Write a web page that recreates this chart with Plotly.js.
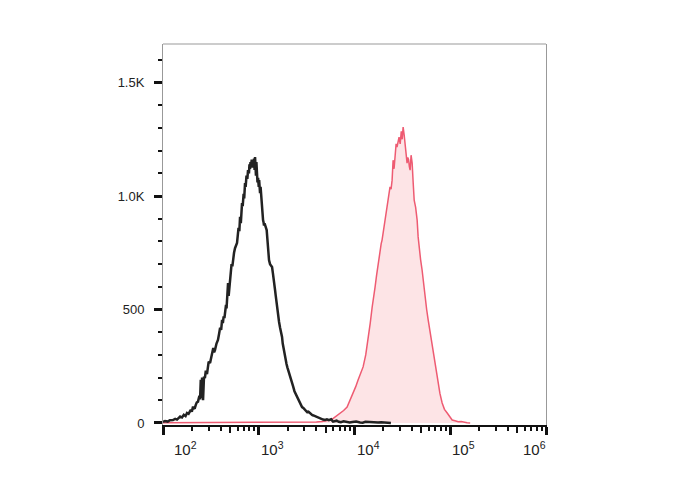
<!DOCTYPE html>
<html>
<head>
<meta charset="utf-8">
<script src="https://cdn.plot.ly/plotly-3.0.1.min.js"></script>
<style>html,body{margin:0;padding:0;background:#fff;}#chart{width:688px;height:490px;}</style>
</head>
<body>
<div id="chart"></div>
<script>
// Control (unstained) histogram: intensity vs count
const controlX = [100,105,112,118,127,134,140,151,158,165,172,178,185,190,195,200,206,210,215,220,225,232,240,244,248,252,256,262,268,274,280,288,294,300,310,316,322,335,342,349,362,375,385,395,405,414,422,430,438,445,455,461,467,472,478,485,493,501,510,520,530,539,552,565,580,593,605,615,627,638,650,660,669,680,695,705,719,730,745,760,773,790,800,811,820,830,845,851,862,872,883,893,905,915,925,935,945,955,970,984,1000,1010,1022,1032,1045,1060,1072,1083,1095,1109,1122,1135,1150,1164,1190,1210,1230,1251,1280,1312,1345,1377,1405,1430,1455,1480,1505,1530,1560,1591,1630,1670,1710,1751,1780,1810,1850,1883,1915,1950,1990,2025,2070,2120,2170,2229,2290,2360,2430,2512,2580,2650,2740,2833,2920,3000,3100,3196,3300,3400,3500,3604,3720,3850,4000,4165,4320,4500,4700,4931,5150,5400,5700,5975,6200,6500,6850,7200,7700,8370,8900,9500,10400,11430,12200,13000,14500,16400,17600,19000,20500,21900,24000,26000,1000000];
const controlY = [5,8,6,12,13,18,15,28,24,36,30,44,40,52,58,50,72,64,66,80,90,94,120,104,190,110,200,100,204,198,230,215,240,270,264,285,300,330,312,321,350,366,392,420,410,454,440,470,462,484,520,505,556,610,617,560,600,644,670,700,690,732,750,770,785,793,830,860,845,909,880,940,969,955,1010,990,1057,1040,1090,1075,1114,1100,1140,1120,1150,1135,1160,1140,1125,1150,1130,1165,1115,1172,1130,1090,1150,1120,1060,1080,1040,1070,1030,1013,1040,1000,985,960,900,894,885,870,880,865,860,850,800,760,718,700,690,687,660,640,615,586,560,530,500,467,445,420,400,379,350,330,310,291,275,260,245,233,222,210,190,176,160,140,128,115,104,95,80,70,66,60,52,48,50,45,38,35,33,30,28,26,20,18,15,13,16,12,16,6,9,10,5,3,7,5,2,4,6,2,1,5,4,1,2,3,1,0,0];

// Stained sample histogram
const stainedX = [100,300,500,800,1000,1500,2000,3000,4000,4600,5000,5560,6000,6500,7080,7700,8370,9000,9670,10300,10900,11600,12300,13100,13900,14600,15300,15900,16400,17000,17650,18100,18500,19000,19400,20100,20500,20900,21600,22000,22400,23000,23500,24100,24700,25300,25900,26500,27200,27800,28500,29200,30000,30800,31500,32200,33000,33800,34600,35400,36000,36700,37400,38100,39000,40000,41000,42000,43500,45100,46200,47300,49000,50800,52700,54700,56700,58800,61500,64700,67000,69500,72000,74800,78000,82300,87000,92900,98000,104700,112000,121000,130000,140000,150000,161500];
const stainedY = [1,2,1,3,1,2,3,2,4,6,8,13,20,30,44,55,70,100,132,160,189,215,247,300,366,440,511,550,599,650,705,730,760,790,806,850,870,894,950,975,996,1020,1040,1030,1070,1158,1120,1172,1230,1216,1250,1260,1230,1285,1250,1304,1270,1233,1200,1145,1170,1160,1130,1114,1180,1145,1060,982,950,894,820,775,720,674,610,555,500,454,400,352,300,264,220,176,130,88,60,44,30,13,10,5,6,2,1,0];

// Axis tick values / labels
const xMajor = [100,1000,10000,100000,1000000];
const xMajorLabels = ['10<sup>2</sup>','10<sup>3</sup>','10<sup>4</sup>','10<sup>5</sup>','10<sup>6</sup>'];
const yMajor = [0,500,1000,1500];
const yMajorLabels = ['0','500','1.0K','1.5K'];

const xMinor = [];
const xFive = [];
for (let d = 2; d <= 5; d++) {
  for (let k = 2; k <= 9; k++) {
    if (k === 5) xFive.push(k * Math.pow(10, d));
    else xMinor.push(k * Math.pow(10, d));
  }
}

const traces = [
  {
    x: stainedX, y: stainedY, type: 'scatter', mode: 'lines',
    line: {color: '#ee5b72', width: 1.5},
    fill: 'tozeroy', fillcolor: '#fde4e6',
    hoverinfo: 'skip', showlegend: false
  },
  {
    x: controlX, y: controlY, type: 'scatter', mode: 'lines',
    line: {color: '#222222', width: 2.5},
    hoverinfo: 'skip', showlegend: false
  },
  {
    x: [xFive[0]], y: [null], xaxis: 'x2', yaxis: 'y', type: 'scatter', mode: 'lines',
    hoverinfo: 'skip', showlegend: false
  }
];

const fontFam = '"Liberation Sans", Arial, sans-serif';
const annotations = xMajor.map((v, i) => {
  let anchor = 'left', shift = 0;
  if (i === 0) shift = 9;
  if (i === xMajor.length - 1) { anchor = 'right'; shift = 2; }
  return {
    x: Math.log10(v), xref: 'x', y: 0, yref: 'paper',
    text: xMajorLabels[i], showarrow: false,
    xanchor: anchor, yanchor: 'top', xshift: shift, yshift: -12,
    font: {family: fontFam, size: 15, color: '#222'}
  };
});

const layout = {
  width: 688, height: 490,
  margin: {l: 163, r: 142, t: 44, b: 65, pad: 0},
  paper_bgcolor: '#fff', plot_bgcolor: '#fff',
  showlegend: false,
  xaxis: {
    type: 'log', range: [2, 6], showgrid: false, zeroline: false,
    showline: true, linecolor: '#111', linewidth: 2,
    ticks: 'outside', tickvals: xMajor, ticklen: 8, tickwidth: 3, tickcolor: '#111',
    showticklabels: false,
    minor: {tickvals: xMinor, ticks: 'outside', ticklen: 4, tickwidth: 2, tickcolor: '#111', showgrid: false}
  },
  xaxis2: {
    type: 'log', range: [2, 6], overlaying: 'x', anchor: 'y', side: 'bottom',
    showgrid: false, zeroline: false, showline: false,
    ticks: 'outside', tickvals: xFive, ticklen: 7, tickwidth: 2, tickcolor: '#111',
    showticklabels: false
  },
  yaxis: {
    range: [-9, 1670], showgrid: false, zeroline: false,
    showline: true, linecolor: '#999', linewidth: 1, mirror: true,
    ticks: 'outside', tickvals: yMajor, ticktext: yMajorLabels,
    ticklen: 8, tickwidth: 3, tickcolor: '#111',
    ticklabelstandoff: 7,
    tickfont: {family: fontFam, size: 13, color: '#222'},
    minor: {dtick: 100, ticks: 'outside', ticklen: 4, tickwidth: 2, tickcolor: '#111', showgrid: false}
  },
  shapes: [
    {type: 'line', xref: 'paper', yref: 'paper', x0: 0, x1: 1, y0: 1, y1: 1,
     line: {color: '#999', width: 1}}
  ],
  annotations: annotations
};

Plotly.newPlot('chart', traces, layout, {staticPlot: true, displayModeBar: false});
</script>
</body>
</html>
